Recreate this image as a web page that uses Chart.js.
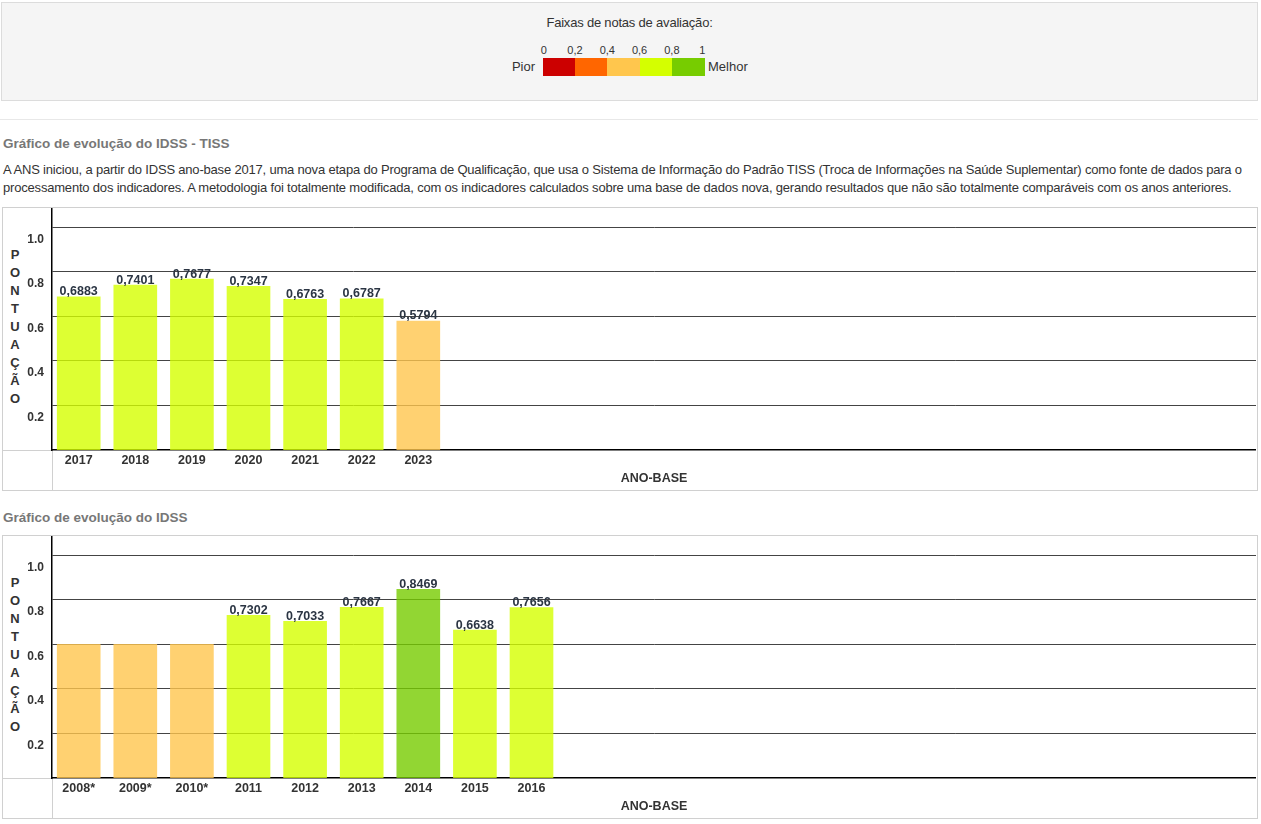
<!DOCTYPE html>
<html lang="pt-BR">
<head>
<meta charset="utf-8">
<title>IDSS</title>
<script src="https://cdn.jsdelivr.net/npm/chart.js@4.4.1/dist/chart.umd.min.js"></script>
<style>
html,body{margin:0;padding:0;background:#fff;}
body{width:1261px;height:824px;position:relative;overflow:hidden;font-family:"Liberation Sans",Arial,sans-serif;color:#333;}
.abs{position:absolute;}
#faixas{left:1px;top:2px;width:1257px;height:99px;box-sizing:border-box;border:1px solid #dcdcdc;background:#f5f5f5;}
.sep{height:1px;background:#e8e8e8;}
.titulo{left:3px;font-weight:bold;font-size:13.5px;line-height:18px;color:#777;white-space:nowrap;}
.texto{left:3px;font-size:13px;letter-spacing:-0.19px;line-height:18px;color:#333;white-space:nowrap;}
.caixa{left:2px;width:1256px;height:284px;box-sizing:border-box;border:1px solid #d0d0d0;}
.vert{left:2px;top:38px;width:20px;text-align:center;font-weight:bold;font-size:13px;line-height:18px;color:#333;}
.wrap{left:0;top:0;width:1253px;height:282px;}
</style>
</head>
<body>
<div id="faixas" class="abs"></div>
<div class="abs" style="left:0;top:15px;width:1259px;text-align:center;font-size:13px;letter-spacing:-0.2px;line-height:16px;color:#333;">Faixas de notas de avaliação:</div>
<div id="legenda"></div>
<div class="abs sep" style="left:0;top:119px;width:1258px;"></div>

<div class="abs titulo" style="top:135px;">Gráfico de evolução do IDSS - TISS</div>
<div class="abs texto" style="top:161px;">A ANS iniciou, a partir do IDSS ano-base 2017, uma nova etapa do Programa de Qualificação, que usa o Sistema de Informação do Padrão TISS (Troca de Informações na Saúde Suplementar) como fonte de dados para o<br>processamento dos indicadores. A metodologia foi totalmente modificada, com os indicadores calculados sobre uma base de dados nova, gerando resultados que não são totalmente comparáveis com os anos anteriores.</div>

<div class="abs caixa" style="top:207px;">
  <div class="abs" style="left:0;top:242px;width:49px;height:1px;background:#d0d0d0;"></div>
  <div class="abs" style="left:49px;top:242px;width:1px;height:40px;background:#d0d0d0;"></div>
  <div class="abs vert" id="vert1"></div>
  <div class="abs wrap"><canvas id="c1"></canvas></div>
</div>

<div class="abs titulo" style="top:509px;">Gráfico de evolução do IDSS</div>

<div class="abs caixa" style="top:535px;">
  <div class="abs" style="left:0;top:242px;width:49px;height:1px;background:#d0d0d0;"></div>
  <div class="abs" style="left:49px;top:242px;width:1px;height:40px;background:#d0d0d0;"></div>
  <div class="abs vert" id="vert2"></div>
  <div class="abs wrap"><canvas id="c2"></canvas></div>
</div>

<script>
// ---- Dados ----
const faixaLimites = ['0', '0,2', '0,4', '0,6', '0,8', '1'];
const faixaCores = ['#CC0000', '#FF6600', '#FFC64D', '#D4FF00', '#77CC00'];

const anos1 = ['2017', '2018', '2019', '2020', '2021', '2022', '2023'];
const valores1 = [0.6883, 0.7401, 0.7677, 0.7347, 0.6763, 0.6787, 0.5794];
const rotulo1 = [true, true, true, true, true, true, true];

const anos2 = ['2008*', '2009*', '2010*', '2011', '2012', '2013', '2014', '2015', '2016'];
const valores2 = [0.6, 0.6, 0.6, 0.7302, 0.7033, 0.7667, 0.8469, 0.6638, 0.7656];
const rotulo2 = [false, false, false, true, true, true, true, true, true];

const yTicks = [0.2, 0.4, 0.6, 0.8, 1.0];
const tituloEixoY = 'PONTUAÇÃO';
const tituloEixoX = 'ANO-BASE';

// ---- Legenda de faixas ----
(function () {
  const leg = document.getElementById('legenda');
  const x0 = 542.7, w = 32.3;
  faixaCores.forEach((c, i) => {
    const d = document.createElement('div');
    d.className = 'abs';
    d.style.cssText = `left:${x0 + i * w}px;top:58px;width:${w + 0.4}px;height:18px;background:${c};`;
    leg.appendChild(d);
  });
  faixaLimites.forEach((t, i) => {
    const d = document.createElement('div');
    d.className = 'abs';
    let cx = x0 + i * w;
    if (i === 0) cx += 1;
    if (i === faixaLimites.length - 1) cx -= 2;
    d.style.cssText = `left:${cx - 20}px;top:43px;width:40px;text-align:center;font-size:11px;line-height:14px;color:#333;`;
    d.textContent = t;
    leg.appendChild(d);
  });
  const p = document.createElement('div');
  p.className = 'abs';
  p.style.cssText = 'left:495px;top:59px;width:40px;text-align:right;font-size:13px;line-height:16px;color:#333;';
  p.textContent = 'Pior';
  leg.appendChild(p);
  const m = document.createElement('div');
  m.className = 'abs';
  m.style.cssText = 'left:708px;top:59px;font-size:13px;line-height:16px;color:#333;';
  m.textContent = 'Melhor';
  leg.appendChild(m);
})();

['vert1', 'vert2'].forEach(id => {
  document.getElementById(id).innerHTML = Array.from(tituloEixoY).join('<br>');
});

// ---- Gráficos ----
function corBarra(v) {
  let idx;
  if (v <= 0.2) idx = 0;
  else if (v <= 0.4) idx = 1;
  else if (v <= 0.6) idx = 2;
  else if (v <= 0.8) idx = 3;
  else idx = 4;
  const h = faixaCores[idx];
  const r = parseInt(h.slice(1, 3), 16), g = parseInt(h.slice(3, 5), 16), b = parseInt(h.slice(5, 7), 16);
  return `rgba(${r},${g},${b},0.8)`;
}

const rotulosPlugin = {
  id: 'rotulos',
  afterDatasetsDraw(chart) {
    const flags = chart.options.plugins.rotulos.flags;
    const ctx = chart.ctx;
    const meta = chart.getDatasetMeta(0);
    ctx.save();
    ctx.font = 'bold 12.5px "Liberation Sans", Arial, sans-serif';
    ctx.fillStyle = '#2b3543';
    ctx.textAlign = 'center';
    ctx.textBaseline = 'alphabetic';
    meta.data.forEach((bar, i) => {
      if (!flags[i]) return;
      const v = chart.data.datasets[0].data[i].y;
      ctx.fillText(v.toFixed(4).replace('.', ','), bar.x, bar.y - 1.5);
    });
    ctx.restore();
  }
};

function semPadding(s) {
  s.paddingTop = 0; s.paddingBottom = 0; s.paddingLeft = 0; s.paddingRight = 0;
}

function criar(id, anos, valores, flags) {
  const fonte = { family: '"Liberation Sans", Arial, sans-serif', weight: 'bold' };
  new Chart(document.getElementById(id), {
    type: 'bar',
    data: {
      datasets: [{
        data: valores.map((v, i) => ({ x: i, y: v })),
        backgroundColor: valores.map(corBarra),
        borderWidth: 0,
        barThickness: 43
      }]
    },
    plugins: [rotulosPlugin],
    options: {
      responsive: true,
      maintainAspectRatio: false,
      animation: false,
      events: [],
      layout: { padding: 0, autoPadding: false },
      plugins: {
        legend: { display: false },
        tooltip: { enabled: false },
        rotulos: { flags: flags }
      },
      scales: {
        x: {
          type: 'linear',
          offset: false,
          min: -0.4717,
          max: 20.8,
          afterBuildTicks(s) { s.ticks = anos.map((_, i) => ({ value: i })); },
          afterFit(s) { s.height = 40; semPadding(s); },
          grid: { display: false, drawTicks: false },
          border: { display: true, color: '#000', width: 1.5 },
          ticks: {
            autoSkip: false, maxRotation: 0, padding: 3,
            color: '#333', font: { ...fonte, size: 12.5 },
            callback: (v) => anos[v] ?? ''
          },
          title: {
            display: true, text: tituloEixoX, color: '#333',
            font: { ...fonte, size: 12.5 }, padding: { top: 0, bottom: 4 }
          }
        },
        y: {
          min: 0,
          max: 1.0867,
          afterBuildTicks(s) { s.ticks = yTicks.map(v => ({ value: v })); },
          afterFit(s) { s.width = 49; semPadding(s); },
          grid: { color: '#444', lineWidth: 1, drawTicks: false },
          border: { display: true, color: '#000', width: 1.5 },
          ticks: {
            padding: 8, labelOffset: 12, color: '#333',
            font: { ...fonte, size: 12 },
            callback: (v) => v.toFixed(1)
          }
        }
      }
    }
  });
}

criar('c1', anos1, valores1, rotulo1);
criar('c2', anos2, valores2, rotulo2);
</script>
</body>
</html>
